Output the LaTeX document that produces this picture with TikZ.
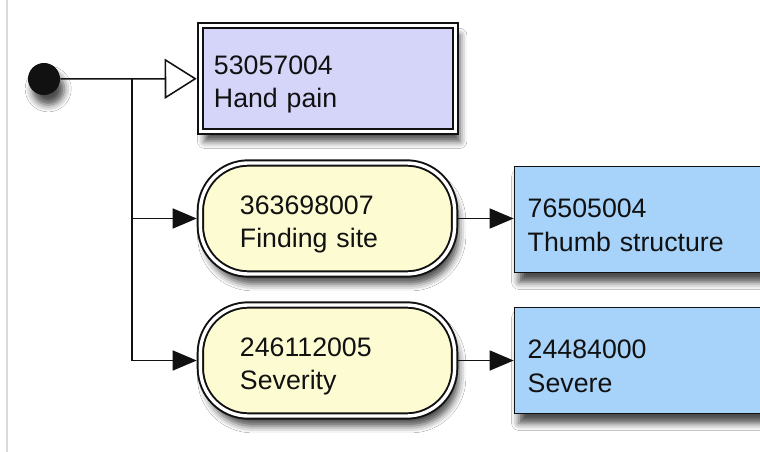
\documentclass[tikz,border=0pt]{standalone}
\usepackage{fontspec}
\setmainfont{Liberation Sans}
\usepackage{xcolor}
\usepackage{tikz}
\usetikzlibrary{arrows.meta,positioning,shadows.blur}
\definecolor{snInk}{HTML}{111111}
\definecolor{snConcept}{HTML}{D5D5FA}
\definecolor{snAttr}{HTML}{FDFBD2}
\definecolor{snValue}{HTML}{A7D3FA}
\definecolor{snEdge}{HTML}{DADADA}
\tikzset{
  snshadow/.style={blur shadow={shadow xshift=3pt,shadow yshift=-7pt,
    shadow blur radius=5pt,shadow opacity=70}},
  sntext/.style={font=\fontsize{19}{23.5}\selectfont,text=snInk,
    align=left,text height=21.5pt},
  conceptbox/.style={rectangle,draw=snInk,line width=1.4pt,
    double=white,double distance=2.4pt,outer sep=2.6pt,
    fill=snConcept,minimum width=6.375cm,minimum height=2.65cm,
    text width=5.7cm,inner xsep=0.34cm,snshadow,sntext},
  attrbox/.style={rectangle,rounded corners=1.2cm,draw=snInk,line width=1.4pt,
    double=white,double distance=2.4pt,outer sep=2.6pt,
    fill=snAttr,minimum width=6.35cm,minimum height=2.775cm,
    text width=4.375cm,inner xsep=0.99cm,snshadow,sntext},
  valuebox/.style={rectangle,draw=snInk,line width=1.2pt,
    fill=snValue,minimum width=7cm,minimum height=2.65cm,
    text width=6.35cm,inner xsep=0.33cm,snshadow,sntext},
  startdot/.style={circle,fill=snInk,minimum size=0.8cm,inner sep=0pt,
    snshadow},
  arr/.style={-{Triangle[length=0.6cm,width=0.5cm]},line width=1.1pt,
    color=snInk},
  isa/.style={-{Triangle[open,length=0.8cm,width=1cm,fill=white]},
    line width=1.1pt,color=snInk},
}

\begin{document}
\begin{tikzpicture}[x=0.025cm,y=-0.025cm]
  \clip (0,0) rectangle (760,452);
  \fill[white] (0,0) rectangle (760,452);
  \draw[snEdge,line width=1pt] (7,0) -- (7,452);

  % root concept
  \node[startdot] (dot) at (44,79) {};
  \node[conceptbox] (hand) at (328,78.5) {53057004\\Hand pain};
  \coordinate (split) at (132,79);

  % attributes
  \node[attrbox] (site) at (327.5,218.5) {363698007\\Finding site};
  \node[attrbox] (sev) at (327.5,360.5) {246112005\\Severity};

  % values
  \node[valuebox] (thumb) at (654.75,219.5) {76505004\\Thumb structure};
  \node[valuebox] (severe) at (654.75,360.5) {24484000\\Severe};

  % connectors
  \draw[isa] (dot) -- (hand);
  \draw[arr] (split) |- (site.west);
  \draw[arr] (split) |- (sev.west);
  \draw[arr] (site) -- (site.east -| thumb.west);
  \draw[arr] (sev) -- (sev.east -| severe.west);
\end{tikzpicture}
\end{document}
